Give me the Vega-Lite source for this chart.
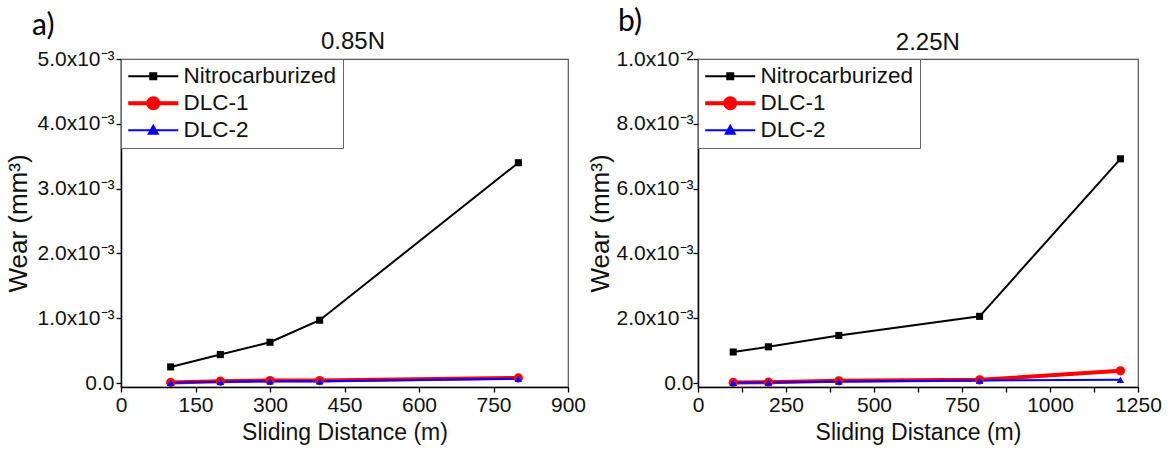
{
  "$schema": "https://vega.github.io/schema/vega-lite/v6.json",
  "background": "white",
  "padding": {"left": 5, "top": 6, "right": 5, "bottom": 5},
  "spacing": 0,
  "config": {
    "font": "Liberation Sans",
    "view": {"stroke": "#555", "strokeWidth": 1.2},
    "axis": {"domainColor": "#000", "domainWidth": 1.5, "tickColor": "#000", "tickWidth": 1.3, "tickSize": 5, "labelFontSize": 21, "labelColor": "#111", "titleFontSize": 23, "titleFontWeight": "normal", "titleColor": "#111", "grid": false, "labelFont": "Liberation Sans", "titleFont": "Liberation Sans", "labelFlush": false, "labelOverlap": false, "labelPadding": 2},
    "legend": {"labelFontSize": 22.5, "labelFont": "Liberation Sans", "labelColor": "#111", "strokeColor": "#666", "fillColor": "white", "padding": 6, "symbolSize": 100, "symbolOffset": 15, "labelOffset": 19, "rowPadding": 2, "orient": "top-left", "offset": 0}
  },
  "resolve": {"scale": {"color": "independent"}, "legend": {"color": "independent"}},
  "hconcat": [
    {
      "width": 447,
      "height": 328,
      "data": {"values": [
        {"series": "DLC-1", "distance": 100, "wear": 0.00001},
        {"series": "DLC-1", "distance": 200, "wear": 0.00003},
        {"series": "DLC-1", "distance": 300, "wear": 0.00004},
        {"series": "DLC-1", "distance": 400, "wear": 0.00004},
        {"series": "DLC-1", "distance": 800, "wear": 0.00008},
        {"series": "DLC-2", "distance": 100, "wear": 0.000005},
        {"series": "DLC-2", "distance": 200, "wear": 0.00002},
        {"series": "DLC-2", "distance": 300, "wear": 0.00003},
        {"series": "DLC-2", "distance": 400, "wear": 0.00003},
        {"series": "DLC-2", "distance": 800, "wear": 0.00007},
        {"series": "Nitrocarburized", "distance": 100, "wear": 0.00025},
        {"series": "Nitrocarburized", "distance": 200, "wear": 0.00044},
        {"series": "Nitrocarburized", "distance": 300, "wear": 0.00063},
        {"series": "Nitrocarburized", "distance": 400, "wear": 0.00097},
        {"series": "Nitrocarburized", "distance": 800, "wear": 0.0034}
      ]},
      "layer": [
        {
          "mark": {"type": "line"},
          "encoding": {
            "x": {"field": "distance", "type": "quantitative", "scale": {"domain": [0, 900], "nice": false, "zero": false},
                  "axis": {"title": "Sliding Distance (m)", "values": [0,75,150,225,300,375,450,525,600,675,750,825,900], "labelExpr": "datum.value % 150 == 0 ? format(datum.value, 'd') : ''", "titlePadding": 6}},
            "y": {"field": "wear", "type": "quantitative", "scale": {"domain": [-0.00006, 0.005], "nice": false, "zero": false},
                  "axis": {"title": "Wear  (mm³)", "titleFontSize": 26, "values": [0,0.0005,0.001,0.0015,0.002,0.0025,0.003,0.0035,0.004,0.0045,0.005], "labelExpr": "abs(round(datum.value*1000) - datum.value*1000) < 1e-6 ? (abs(datum.value) < 1e-9 ? '0.0' : format(datum.value*1000, '.1f') + 'x10⁻³') : ''", "titlePadding": 5}},
            "color": {"field": "series", "type": "nominal", "scale": {"domain": ["Nitrocarburized", "DLC-1", "DLC-2"], "range": ["#000000", "#ff0000", "#0000ff"]},
                      "legend": {"title": null, "encode": {"symbols": {"update": {
                        "shape": {"signal": "datum.value === 'Nitrocarburized' ? 'M-5,0H5M-0.6,-0.6H0.6V0.6H-0.6Z' : datum.value === 'DLC-1' ? 'M-5,0H5M1,0A1,1,0,1,1,-1,0A1,1,0,1,1,1,0Z' : 'M-5,0H5M0,-0.9L0.9,0.7H-0.9Z'"},
                        "fill": {"signal": "datum.value === 'Nitrocarburized' ? '#000000' : datum.value === 'DLC-1' ? '#ff0000' : '#0000ff'"},
                        "stroke": {"signal": "datum.value === 'Nitrocarburized' ? '#000000' : datum.value === 'DLC-1' ? '#ff0000' : '#0000ff'"},
                        "strokeWidth": {"signal": "datum.value === 'DLC-1' ? 4 : 2"},
                        "fillOpacity": {"value": 1},
                        "opacity": {"value": 1}
                      }}}}},
            "strokeWidth": {"condition": {"test": "datum.series === 'DLC-1'", "value": 4}, "value": 2}
          }
        },
        {
          "transform": [{"filter": "datum.series === 'DLC-1'"}],
          "mark": {"type": "point", "filled": true, "opacity": 1, "shape": "circle", "size": 85},
          "encoding": {
            "x": {"field": "distance", "type": "quantitative"},
            "y": {"field": "wear", "type": "quantitative"},
            "color": {"field": "series", "type": "nominal"}
          }
        },
        {
          "transform": [{"filter": "datum.series === 'DLC-2'"}],
          "mark": {"type": "point", "filled": true, "opacity": 1, "shape": "triangle-up", "size": 55},
          "encoding": {
            "x": {"field": "distance", "type": "quantitative"},
            "y": {"field": "wear", "type": "quantitative"},
            "color": {"field": "series", "type": "nominal"}
          }
        },
        {
          "transform": [{"filter": "datum.series === 'Nitrocarburized'"}],
          "mark": {"type": "point", "filled": true, "opacity": 1, "shape": "square", "size": 50},
          "encoding": {
            "x": {"field": "distance", "type": "quantitative"},
            "y": {"field": "wear", "type": "quantitative"},
            "color": {"field": "series", "type": "nominal"}
          }
        },
        {
          "data": {"values": [{"label": "a)"}]},
          "mark": {"type": "text", "align": "left", "baseline": "middle", "fontSize": 30, "font": "Lato", "fontWeight": "normal", "fill": "#000", "clip": false},
          "encoding": {
            "x": {"datum": -179, "type": "quantitative"},
            "y": {"datum": 0.00551, "type": "quantitative"},
            "text": {"field": "label"}
          }
        },
        {
          "data": {"values": [{"label": "0.85N"}]},
          "mark": {"type": "text", "align": "center", "baseline": "middle", "fontSize": 24, "font": "Liberation Sans", "fontWeight": "normal", "fill": "#111", "clip": false},
          "encoding": {
            "x": {"datum": 467, "type": "quantitative"},
            "y": {"datum": 0.00526, "type": "quantitative"},
            "text": {"field": "label"}
          }
        }
      ]
    },
    {
      "width": 440,
      "height": 328,
      "data": {"values": [
        {"series": "DLC-1", "distance": 100, "wear": 0.00002},
        {"series": "DLC-1", "distance": 200, "wear": 0.00003},
        {"series": "DLC-1", "distance": 400, "wear": 0.00007},
        {"series": "DLC-1", "distance": 800, "wear": 0.0001},
        {"series": "DLC-1", "distance": 1200, "wear": 0.00038},
        {"series": "DLC-2", "distance": 100, "wear": 0.00001},
        {"series": "DLC-2", "distance": 200, "wear": 0.00002},
        {"series": "DLC-2", "distance": 400, "wear": 0.00005},
        {"series": "DLC-2", "distance": 800, "wear": 0.00008},
        {"series": "DLC-2", "distance": 1200, "wear": 0.0001},
        {"series": "Nitrocarburized", "distance": 100, "wear": 0.00096},
        {"series": "Nitrocarburized", "distance": 200, "wear": 0.00112},
        {"series": "Nitrocarburized", "distance": 400, "wear": 0.00147},
        {"series": "Nitrocarburized", "distance": 800, "wear": 0.00206},
        {"series": "Nitrocarburized", "distance": 1200, "wear": 0.00692}
      ]},
      "layer": [
        {
          "mark": {"type": "line"},
          "encoding": {
            "x": {"field": "distance", "type": "quantitative", "scale": {"domain": [0, 1250], "nice": false, "zero": false},
                  "axis": {"title": "Sliding Distance (m)", "values": [0,125,250,375,500,625,750,875,1000,1125,1250], "labelExpr": "datum.value % 250 == 0 ? format(datum.value, 'd') : ''", "titlePadding": 6}},
            "y": {"field": "wear", "type": "quantitative", "scale": {"domain": [-0.00012, 0.01], "nice": false, "zero": false},
                  "axis": {"title": "Wear  (mm³)", "titleFontSize": 26, "labelPadding": 0, "values": [0,0.001,0.002,0.003,0.004,0.005,0.006,0.007,0.008,0.009,0.01], "labelExpr": "abs(round(datum.value*500) - datum.value*500) < 1e-6 ? (abs(datum.value) < 1e-9 ? '0.0' : datum.value > 0.0099 ? format(datum.value*100, '.1f') + 'x10⁻²' : format(datum.value*1000, '.1f') + 'x10⁻³') : ''", "titlePadding": 2}},
            "color": {"field": "series", "type": "nominal", "scale": {"domain": ["Nitrocarburized", "DLC-1", "DLC-2"], "range": ["#000000", "#ff0000", "#0000ff"]},
                      "legend": {"title": null, "encode": {"symbols": {"update": {
                        "shape": {"signal": "datum.value === 'Nitrocarburized' ? 'M-5,0H5M-0.6,-0.6H0.6V0.6H-0.6Z' : datum.value === 'DLC-1' ? 'M-5,0H5M1,0A1,1,0,1,1,-1,0A1,1,0,1,1,1,0Z' : 'M-5,0H5M0,-0.9L0.9,0.7H-0.9Z'"},
                        "fill": {"signal": "datum.value === 'Nitrocarburized' ? '#000000' : datum.value === 'DLC-1' ? '#ff0000' : '#0000ff'"},
                        "stroke": {"signal": "datum.value === 'Nitrocarburized' ? '#000000' : datum.value === 'DLC-1' ? '#ff0000' : '#0000ff'"},
                        "strokeWidth": {"signal": "datum.value === 'DLC-1' ? 4 : 2"},
                        "fillOpacity": {"value": 1},
                        "opacity": {"value": 1}
                      }}}}},
            "strokeWidth": {"condition": {"test": "datum.series === 'DLC-1'", "value": 4}, "value": 2}
          }
        },
        {
          "transform": [{"filter": "datum.series === 'DLC-1'"}],
          "mark": {"type": "point", "filled": true, "opacity": 1, "shape": "circle", "size": 85},
          "encoding": {
            "x": {"field": "distance", "type": "quantitative"},
            "y": {"field": "wear", "type": "quantitative"},
            "color": {"field": "series", "type": "nominal"}
          }
        },
        {
          "transform": [{"filter": "datum.series === 'DLC-2'"}],
          "mark": {"type": "point", "filled": true, "opacity": 1, "shape": "triangle-up", "size": 55},
          "encoding": {
            "x": {"field": "distance", "type": "quantitative"},
            "y": {"field": "wear", "type": "quantitative"},
            "color": {"field": "series", "type": "nominal"}
          }
        },
        {
          "transform": [{"filter": "datum.series === 'Nitrocarburized'"}],
          "mark": {"type": "point", "filled": true, "opacity": 1, "shape": "square", "size": 50},
          "encoding": {
            "x": {"field": "distance", "type": "quantitative"},
            "y": {"field": "wear", "type": "quantitative"},
            "color": {"field": "series", "type": "nominal"}
          }
        },
        {
          "data": {"values": [{"label": "b)"}]},
          "mark": {"type": "text", "align": "left", "baseline": "middle", "fontSize": 30, "font": "Lato", "fontWeight": "normal", "fill": "#000", "clip": false},
          "encoding": {
            "x": {"datum": -227, "type": "quantitative"},
            "y": {"datum": 0.01114, "type": "quantitative"},
            "text": {"field": "label"}
          }
        },
        {
          "data": {"values": [{"label": "2.25N"}]},
          "mark": {"type": "text", "align": "center", "baseline": "middle", "fontSize": 24, "font": "Liberation Sans", "fontWeight": "normal", "fill": "#111", "clip": false},
          "encoding": {
            "x": {"datum": 653, "type": "quantitative"},
            "y": {"datum": 0.01049, "type": "quantitative"},
            "text": {"field": "label"}
          }
        }
      ]
    }
  ]
}
